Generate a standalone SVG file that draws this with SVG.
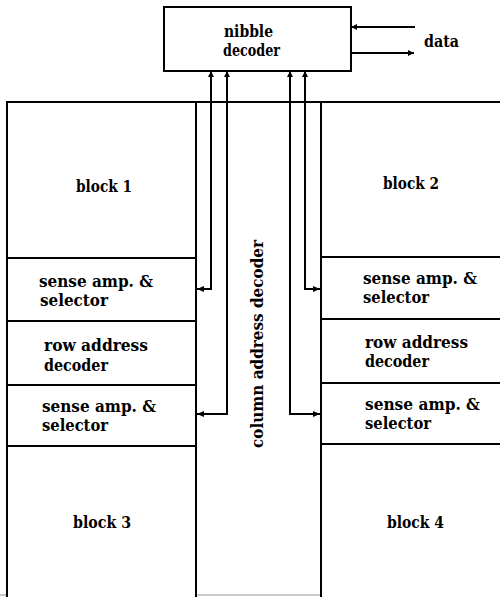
<svg xmlns="http://www.w3.org/2000/svg" width="500" height="597" viewBox="0 0 500 597">
<style>
.box{fill:#fff;stroke:#000;stroke-width:2}
.ln{fill:none;stroke:#000;stroke-width:2}
text{font-family:"DejaVu Serif","Liberation Serif",serif;font-weight:bold;font-size:16px;fill:#000}
</style>
<defs>
<marker id="ah" viewBox="0 0 10 10" refX="10" refY="5" markerWidth="7" markerHeight="6" markerUnits="userSpaceOnUse" orient="auto">
<path d="M0,0 L10,5 L0,10 z" fill="#000"/>
</marker>
</defs>
<rect width="500" height="597" fill="#fff"/>
<line x1="0" y1="595" x2="500" y2="595" stroke="#bbb" stroke-width="1.5"/>
<line class="ln" x1="7" y1="102" x2="500" y2="102"/>

<g id="nibble-decoder">
<rect class="box" x="164" y="7" width="187" height="64"/>
<text x="224" y="37" textLength="49" lengthAdjust="spacingAndGlyphs">nibble</text>
<text x="223" y="56" textLength="57" lengthAdjust="spacingAndGlyphs">decoder</text>
</g>

<g id="block1"><rect class="box" x="7" y="102" width="189" height="156"/><text x="76" y="192" textLength="56" lengthAdjust="spacingAndGlyphs">block 1</text></g>
<g id="sense-amp-1"><rect class="box" x="7" y="258" width="189" height="63"/><text x="39" y="287" textLength="114" lengthAdjust="spacingAndGlyphs">sense amp. &amp;</text><text x="40" y="306" textLength="68" lengthAdjust="spacingAndGlyphs">selector</text></g>
<g id="row-decoder-left"><rect class="box" x="7" y="321" width="189" height="64"/><text x="44" y="351" textLength="104" lengthAdjust="spacingAndGlyphs">row address</text><text x="44" y="371" textLength="64" lengthAdjust="spacingAndGlyphs">decoder</text></g>
<g id="sense-amp-3"><rect class="box" x="7" y="385" width="189" height="61"/><text x="42" y="412" textLength="114" lengthAdjust="spacingAndGlyphs">sense amp. &amp;</text><text x="42" y="431" textLength="66" lengthAdjust="spacingAndGlyphs">selector</text></g>
<g id="block3"><rect class="box" x="7" y="446" width="189" height="160"/><text x="73" y="528" textLength="58" lengthAdjust="spacingAndGlyphs">block 3</text></g>

<g id="block2"><rect class="box" x="321" y="102" width="185" height="155"/><text x="383" y="189" textLength="56" lengthAdjust="spacingAndGlyphs">block 2</text></g>
<g id="sense-amp-2"><rect class="box" x="321" y="257" width="185" height="62"/><text x="363" y="284" textLength="114" lengthAdjust="spacingAndGlyphs">sense amp. &amp;</text><text x="363" y="303" textLength="66" lengthAdjust="spacingAndGlyphs">selector</text></g>
<g id="row-decoder-right"><rect class="box" x="321" y="319" width="185" height="64"/><text x="365" y="348" textLength="103" lengthAdjust="spacingAndGlyphs">row address</text><text x="365" y="367" textLength="64" lengthAdjust="spacingAndGlyphs">decoder</text></g>
<g id="sense-amp-4"><rect class="box" x="321" y="383" width="185" height="61"/><text x="365" y="410" textLength="115" lengthAdjust="spacingAndGlyphs">sense amp. &amp;</text><text x="365" y="429" textLength="66" lengthAdjust="spacingAndGlyphs">selector</text></g>
<g id="block4"><rect class="box" x="321" y="444" width="185" height="162"/><text x="387" y="528" textLength="57" lengthAdjust="spacingAndGlyphs">block 4</text></g>

<g id="column-address-decoder">
<text transform="translate(263,344) rotate(-90)" text-anchor="middle" textLength="208" lengthAdjust="spacingAndGlyphs">column address decoder</text>
</g>

<g id="data-label"><text x="424" y="47" textLength="35" lengthAdjust="spacingAndGlyphs">data</text></g>

<g id="connectors">
<line class="ln" x1="415" y1="27" x2="351" y2="27" marker-end="url(#ah)"/>
<line class="ln" x1="351" y1="53" x2="414" y2="53" marker-end="url(#ah)"/>
<path class="ln" d="M196,289 H211 V71" marker-end="url(#ah)"/>
<path class="ln" d="M196,414 H227 V71" marker-end="url(#ah)"/>
<path class="ln" d="M321,414 H290 V71" marker-end="url(#ah)"/>
<path class="ln" d="M321,289 H305 V71" marker-end="url(#ah)"/>
<path d="M197,289 l7,-3 v6 z"/>
<path d="M197,414 l7,-3 v6 z"/>
<path d="M320,289 l-7,-3 v6 z"/>
<path d="M320,414 l-7,-3 v6 z"/>
</g>
</svg>
